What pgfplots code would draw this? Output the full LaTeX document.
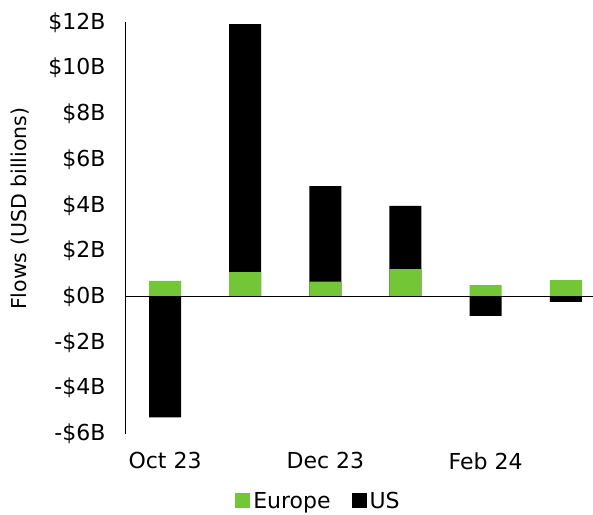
\documentclass[border=0pt]{standalone}
\usepackage{pgfplots}
\pgfplotsset{compat=1.18}
\usepackage{fontspec}
\setmainfont{DejaVu Sans}
\definecolor{eugreen}{RGB}{115,198,54}
\begin{document}
\begin{tikzpicture}
\begin{axis}[
  scale only axis, width=468pt, height=411.3pt,
  xmin=-0.5, xmax=5.34, ymin=-6, ymax=12,
  clip=false,
  axis lines*=left,
  x axis line style={draw=none},
  y axis line style={black, line width=0.8pt},
  ytick={-6,-4,...,12},
  yticklabels={-\$6B,-\$4B,-\$2B,\$0B,\$2B,\$4B,\$6B,\$8B,\$10B,\$12B},
  xtick={0,2,4}, xticklabels={Oct 23,Dec 23,Feb 24},
  major tick length=0pt,
  font=\fontsize{22}{26}\selectfont,
  yticklabel style={xshift=-16pt},
  xticklabel style={yshift=-15pt},
  ylabel={Flows (USD billions)},
  ylabel style={at={(axis description cs:-0.224,0.547)}, anchor=center, font=\fontsize{20.5}{24}\selectfont},
  ybar, bar width=32pt, bar shift=0pt,
  legend style={at={(axis description cs:0.4145,-0.163)}, anchor=center, draw=none,
    legend columns=-1, font=\fontsize{22}{26}\selectfont,
    /tikz/every even column/.append style={column sep=18pt},
    nodes={inner xsep=3pt, inner ysep=1pt}},
  legend image code/.code={\fill[#1] (0pt,-7.5pt) rectangle (15pt,7.5pt);},
]
\addplot[fill=black, draw=none, forget plot] coordinates {(0,-5.28) (1,11.93) (2,4.84) (3,3.97) (4,-0.84) (5,-0.23)};
\addplot[fill=eugreen, draw=none, forget plot] coordinates {(0,0.69) (1,1.07) (2,0.66) (3,1.21) (4,0.51) (5,0.73)};
\draw[black, line width=0.8pt] (axis cs:-0.5,0) -- (axis cs:5.6,0);
\addlegendimage{fill=eugreen, draw=none}
\addlegendentry{Europe}
\addlegendimage{fill=black, draw=none}
\addlegendentry{US}
\coordinate (sw) at (rel axis cs:0,0);
\coordinate (ne) at (rel axis cs:1,1);
\end{axis}
\pgfresetboundingbox
\path[use as bounding box] ([shift={(-125pt,-81.2pt)}]sw) rectangle ([shift={(0pt,22.5pt)}]ne);
\end{tikzpicture}
\end{document}
